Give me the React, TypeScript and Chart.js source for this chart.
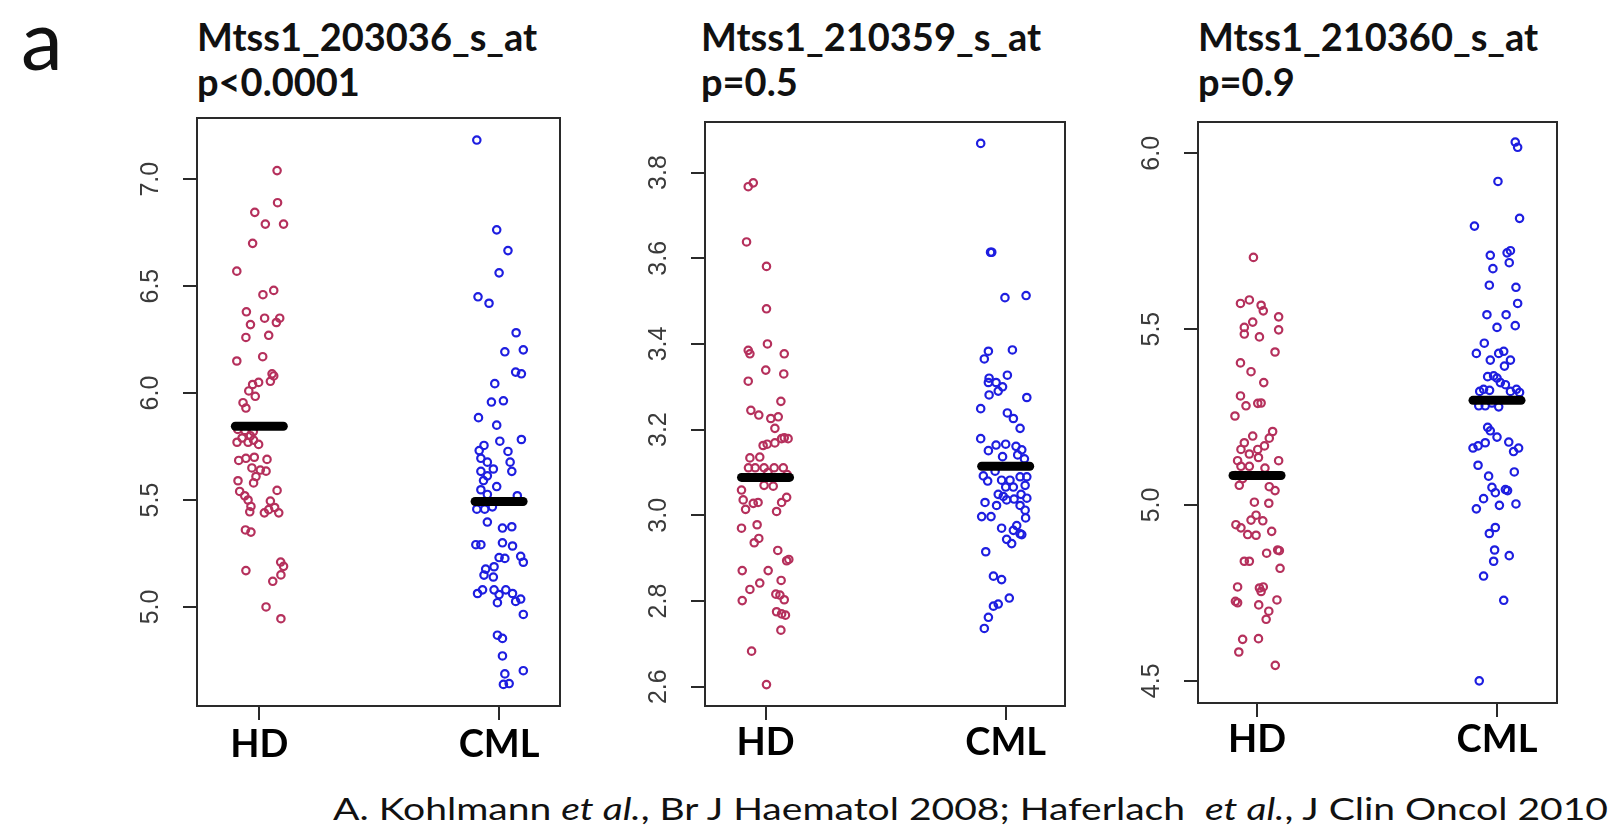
import React, { useEffect, useRef } from 'react';
import { Chart, registerables } from 'chart.js';

Chart.register(...registerables);

// ---------------- data ----------------
const groupLabels = ['HD', 'CML'];
const panelTitles = ['Mtss1_203036_s_at', 'Mtss1_210359_s_at', 'Mtss1_210360_s_at'];
const pValueLabels = ['p<0.0001', 'p=0.5', 'p=0.9'];

const yTicks1 = [5.0, 5.5, 6.0, 6.5, 7.0];
const yTicks2 = [2.6, 2.8, 3.0, 3.2, 3.4, 3.6, 3.8];
const yTicks3 = [4.5, 5.0, 5.5, 6.0];

const p1Means = [5.845, 5.493];
const p2Means = [3.0885, 3.1146];
const p3Means = [5.084, 5.2975];

// Panel 1 (Mtss1_203036_s_at)
const p1HdValues = [7.04, 6.89, 6.845, 6.79, 6.79, 6.7, 6.57, 6.48, 6.46, 6.38, 6.32, 6.35, 6.35, 6.33, 6.26, 6.27, 6.15, 6.17, 6.09, 6.055, 6.08, 6.05, 6.04, 6.01, 5.985, 5.955, 5.93, 5.83, 5.825, 5.82, 5.8, 5.79, 5.78, 5.77, 5.77, 5.76, 5.685, 5.695, 5.7, 5.69, 5.65, 5.64, 5.635, 5.61, 5.58, 5.59, 5.54, 5.52, 5.5, 5.47, 5.445, 5.44, 5.495, 5.465, 5.44, 5.545, 5.455, 5.36, 5.35, 5.17, 5.21, 5.19, 5.15, 5.12, 5.0, 4.945];
const p1HdJitter = [0.074, 0.076, -0.019, 0.025, 0.101, -0.028, -0.094, 0.06, 0.015, -0.054, -0.037, 0.022, 0.085, 0.071, -0.056, 0.039, -0.094, 0.014, 0.053, 0.046, 0.06, -0.003, -0.028, -0.044, -0.017, -0.068, -0.056, -0.09, -0.06, -0.025, -0.037, -0.072, -0.024, -0.093, -0.047, -0.003, -0.086, -0.056, -0.021, 0.032, -0.031, 0.004, 0.028, -0.014, -0.024, -0.089, -0.082, -0.061, -0.047, -0.035, -0.04, 0.021, 0.046, 0.064, 0.081, 0.074, 0.039, -0.058, -0.035, -0.056, 0.089, 0.101, 0.09, 0.056, 0.028, 0.09];
const p1CmlValues = [7.183, 6.763, 6.666, 6.562, 6.45, 6.42, 6.282, 6.193, 6.202, 6.098, 6.09, 6.044, 5.958, 5.964, 5.885, 5.85, 5.783, 5.775, 5.755, 5.731, 5.727, 5.695, 5.677, 5.677, 5.645, 5.634, 5.634, 5.613, 5.591, 5.563, 5.548, 5.526, 5.52, 5.457, 5.457, 5.468, 5.397, 5.369, 5.375, 5.291, 5.291, 5.3, 5.285, 5.237, 5.209, 5.231, 5.227, 5.188, 5.177, 5.149, 5.14, 5.063, 5.08, 5.08, 5.058, 5.08, 5.063, 5.02, 5.026, 5.037, 4.965, 4.868, 4.853, 4.771, 4.702, 4.687, 4.638, 4.642];
const p1CmlJitter = [-0.093, -0.01, 0.037, 0.0, -0.088, -0.042, 0.071, 0.024, 0.101, 0.069, 0.093, -0.018, -0.032, 0.018, -0.086, -0.01, 0.093, 0.003, -0.063, -0.083, 0.037, -0.076, -0.049, 0.046, -0.024, 0.053, -0.076, -0.049, -0.065, -0.01, -0.076, -0.049, 0.076, -0.093, -0.06, -0.028, -0.049, 0.014, 0.053, -0.097, -0.076, 0.014, 0.056, 0.09, 0.101, 0.0, 0.024, -0.021, -0.056, -0.063, -0.024, -0.09, -0.069, -0.021, 0.0, 0.028, 0.056, -0.007, 0.069, 0.09, 0.101, -0.007, 0.014, 0.014, 0.101, 0.024, 0.018, 0.042];

// Panel 2 (Mtss1_210359_s_at)
const p2HdValues = [3.767, 3.776, 3.638, 3.581, 3.482, 3.385, 3.377, 3.4, 3.377, 3.339, 3.33, 3.313, 3.266, 3.245, 3.234, 3.226, 3.23, 3.203, 3.181, 3.179, 3.179, 3.163, 3.166, 3.169, 3.134, 3.136, 3.111, 3.111, 3.111, 3.111, 3.111, 3.1, 3.095, 3.059, 3.036, 3.028, 3.03, 3.07, 3.068, 3.03, 3.042, 3.009, 3.014, 2.97, 2.978, 2.936, 2.946, 2.918, 2.894, 2.897, 2.871, 2.871, 2.842, 2.827, 2.848, 2.801, 2.816, 2.814, 2.803, 2.775, 2.77, 2.767, 2.732, 2.683, 2.605];
const p2HdJitter = [-0.072, -0.051, -0.079, 0.004, 0.004, -0.072, -0.065, 0.008, 0.078, 0.001, 0.076, -0.072, 0.064, -0.061, -0.028, 0.022, 0.053, 0.039, 0.078, 0.094, 0.067, -0.01, 0.007, 0.039, -0.065, -0.024, -0.071, -0.043, -0.006, 0.036, 0.074, 0.01, 0.09, -0.1, -0.093, -0.051, -0.031, -0.006, 0.032, 0.067, 0.088, 0.046, -0.083, -0.1, -0.035, -0.047, -0.028, 0.051, 0.088, 0.097, -0.097, 0.011, -0.024, -0.065, 0.065, -0.097, 0.043, 0.06, 0.078, 0.046, 0.067, 0.083, 0.064, -0.058, 0.004];
const p2CmlValues = [3.868, 3.614, 3.614, 3.508, 3.513, 3.383, 3.386, 3.365, 3.32, 3.31, 3.31, 3.327, 3.3, 3.29, 3.281, 3.275, 3.249, 3.239, 3.226, 3.203, 3.179, 3.164, 3.166, 3.161, 3.153, 3.151, 3.137, 3.141, 3.132, 3.092, 3.08, 3.082, 3.082, 3.09, 3.09, 3.103, 3.07, 3.066, 3.066, 3.049, 3.044, 3.049, 3.04, 3.03, 3.023, 3.036, 3.038, 3.023, 3.012, 2.997, 2.997, 2.994, 2.976, 2.957, 2.965, 2.955, 2.97, 2.944, 2.934, 2.915, 2.858, 2.85, 2.788, 2.793, 2.807, 2.762, 2.736];
const p2CmlJitter = [-0.104, -0.063, -0.058, -0.003, 0.085, -0.072, 0.028, -0.089, -0.069, -0.04, -0.072, 0.007, -0.013, -0.031, -0.069, 0.088, -0.104, 0.007, 0.032, 0.06, -0.104, -0.04, 0.0, 0.043, 0.067, -0.072, -0.013, 0.05, 0.078, -0.093, -0.075, -0.017, 0.018, 0.06, 0.088, -0.044, 0.081, 0.032, 0.0, -0.031, -0.01, 0.064, 0.088, -0.086, -0.038, 0.004, 0.035, 0.06, 0.081, -0.1, -0.061, 0.083, 0.046, 0.06, 0.032, 0.067, -0.017, 0.004, 0.025, -0.083, -0.051, -0.017, -0.051, -0.031, 0.015, -0.072, -0.089];

// Panel 3 (Mtss1_210360_s_at)
const p3HdValues = [5.704, 5.573, 5.583, 5.568, 5.552, 5.535, 5.505, 5.52, 5.498, 5.486, 5.478, 5.435, 5.404, 5.379, 5.348, 5.31, 5.282, 5.289, 5.29, 5.253, 5.209, 5.19, 5.196, 5.177, 5.158, 5.168, 5.158, 5.145, 5.135, 5.126, 5.11, 5.11, 5.126, 5.105, 5.084, 5.075, 5.056, 5.052, 5.041, 5.008, 5.005, 4.971, 4.955, 4.957, 4.944, 4.935, 4.916, 4.914, 4.925, 4.84, 4.84, 4.863, 4.872, 4.87, 4.82, 4.767, 4.764, 4.767, 4.754, 4.726, 4.722, 4.716, 4.73, 4.698, 4.675, 4.618, 4.62, 4.582, 4.544];
const p3HdJitter = [-0.015, -0.069, -0.032, 0.017, 0.026, 0.09, -0.053, -0.018, 0.09, -0.053, 0.01, 0.075, -0.069, -0.025, 0.028, -0.069, -0.046, 0.003, 0.017, -0.092, 0.065, 0.051, -0.018, -0.053, -0.067, 0.031, 0.003, -0.032, 0.006, -0.081, -0.067, -0.032, 0.09, 0.033, -0.09, -0.06, -0.074, 0.051, 0.075, -0.011, 0.049, -0.004, 0.024, -0.025, -0.088, -0.067, -0.039, -0.004, 0.061, -0.053, -0.032, 0.04, 0.086, 0.093, 0.096, -0.081, 0.01, 0.026, 0.017, -0.09, -0.081, 0.007, 0.083, 0.049, 0.038, -0.06, 0.006, -0.076, 0.076];
const p3CmlValues = [6.032, 6.017, 5.92, 5.815, 5.793, 5.723, 5.717, 5.71, 5.689, 5.672, 5.625, 5.619, 5.573, 5.541, 5.541, 5.505, 5.51, 5.46, 5.431, 5.431, 5.437, 5.412, 5.412, 5.395, 5.365, 5.367, 5.361, 5.348, 5.342, 5.323, 5.329, 5.326, 5.323, 5.329, 5.32, 5.282, 5.282, 5.279, 5.29, 5.221, 5.211, 5.193, 5.177, 5.168, 5.162, 5.179, 5.152, 5.162, 5.113, 5.094, 5.082, 5.05, 5.035, 5.044, 5.041, 5.018, 4.999, 5.003, 4.989, 4.919, 4.936, 4.872, 4.84, 4.856, 4.798, 4.729, 4.5];
const p3CmlJitter = [0.076, 0.086, 0.004, 0.094, -0.094, 0.056, 0.042, -0.028, 0.051, -0.017, -0.032, 0.079, 0.086, -0.042, 0.038, 0.0, 0.076, -0.053, -0.086, 0.007, 0.028, -0.028, 0.056, 0.031, -0.039, -0.014, 0.0, 0.014, 0.035, -0.072, -0.056, -0.031, 0.056, 0.081, 0.094, -0.076, -0.049, 0.007, -0.021, -0.039, -0.028, 0.0, -0.049, -0.079, -0.1, 0.049, 0.069, 0.09, -0.079, 0.072, -0.035, -0.021, -0.007, 0.035, 0.044, -0.056, 0.01, 0.079, -0.086, -0.032, -0.007, -0.01, -0.014, 0.051, -0.056, 0.028, -0.074];

// ---------------- styling / layout ----------------
const HD_COLOR = '#b5305c';
const CML_COLOR = '#1e1ee0';
const AXIS_COLOR = '#2a2a2a';
const AX_W = 90;
const AX_H = 80;
const PAD_T = 10;
const PAD_R = 10;
const MEAN_HALF = 0.1;

type PanelCfg = {
  left: number; right: number; top: number; bottom: number;
  xMin: number; xMax: number; yMin: number; yMax: number;
  ticks: number[]; means: number[];
  hd: number[]; hdJ: number[]; cml: number[]; cmlJ: number[];
  xLabelPad: number; titleX: number;
};

const panels: PanelCfg[] = [
  { left: 197, right: 560, top: 118, bottom: 706, xMin: 0.74, xMax: 2.254, yMin: 4.537, yMax: 7.286,
    ticks: yTicks1, means: p1Means, hd: p1HdValues, hdJ: p1HdJitter, cml: p1CmlValues, cmlJ: p1CmlJitter, xLabelPad: 2, titleX: 197 },
  { left: 705, right: 1065, top: 122, bottom: 706, xMin: 0.748, xMax: 2.247, yMin: 2.555, yMax: 3.918,
    ticks: yTicks2, means: p2Means, hd: p2HdValues, hdJ: p2HdJitter, cml: p2CmlValues, cmlJ: p2CmlJitter, xLabelPad: 0, titleX: 701 },
  { left: 1198, right: 1557, top: 122, bottom: 703, xMin: 0.754, xMax: 2.25, yMin: 4.437, yMax: 6.089,
    ticks: yTicks3, means: p3Means, hd: p3HdValues, hdJ: p3HdJitter, cml: p3CmlValues, cmlJ: p3CmlJitter, xLabelPad: 0, titleX: 1198 },
];

const framePlugin = {
  id: 'frame',
  afterDraw(chart: any) {
    const { ctx, chartArea } = chart;
    ctx.save();
    ctx.strokeStyle = AXIS_COLOR;
    ctx.lineWidth = 2;
    ctx.strokeRect(chartArea.left, chartArea.top, chartArea.right - chartArea.left, chartArea.bottom - chartArea.top);
    ctx.restore();
  },
};

function StripPanel({ cfg }: { cfg: PanelCfg }) {
  const ref = useRef<HTMLCanvasElement>(null);
  const w = cfg.right - cfg.left + AX_W + PAD_R;
  const h = cfg.bottom - cfg.top + PAD_T + AX_H;

  useEffect(() => {
    const pointStyle = (color: string) => ({
      pointStyle: 'circle',
      pointRadius: 3.7,
      pointBorderWidth: 2.2,
      pointBorderColor: color,
      pointBackgroundColor: 'rgba(255,255,255,0)',
      borderColor: color,
      backgroundColor: 'rgba(255,255,255,0)',
      showLine: false,
    });
    const meanLine = (pos: number, m: number) => ({
      type: 'line' as const,
      data: [{ x: pos - MEAN_HALF, y: m }, { x: pos + MEAN_HALF, y: m }],
      borderColor: '#000',
      borderWidth: 9,
      borderCapStyle: 'round',
      pointRadius: 0,
      showLine: true,
      order: 0,
    });
    const chart = new Chart(ref.current as HTMLCanvasElement, {
      type: 'scatter',
      data: {
        datasets: [
          { label: groupLabels[0] + ' mean', ...meanLine(1, cfg.means[0]) } as any,
          { label: groupLabels[1] + ' mean', ...meanLine(2, cfg.means[1]) } as any,
          { label: groupLabels[0], data: cfg.hd.map((v, i) => ({ x: 1 + cfg.hdJ[i], y: v })), order: 1, ...pointStyle(HD_COLOR) } as any,
          { label: groupLabels[1], data: cfg.cml.map((v, i) => ({ x: 2 + cfg.cmlJ[i], y: v })), order: 1, ...pointStyle(CML_COLOR) } as any,
        ],
      },
      options: {
        animation: false,
        responsive: false,
        devicePixelRatio: 1,
        layout: { padding: { top: PAD_T, right: PAD_R, left: 0, bottom: 0 } },
        plugins: { legend: { display: false }, tooltip: { enabled: false }, title: { display: false } },
        scales: {
          x: {
            type: 'linear',
            min: cfg.xMin,
            max: cfg.xMax,
            afterBuildTicks: (s: any) => { s.ticks = [1, 2].map((v) => ({ value: v })); },
            afterFit: (s: any) => { s.height = AX_H; s.paddingLeft = 0; s.paddingRight = 0; },
            grid: { drawOnChartArea: false, drawTicks: true, tickLength: 14, color: AXIS_COLOR, lineWidth: 2 },
            border: { display: false },
            ticks: {
              autoSkip: false, minRotation: 0, maxRotation: 0, padding: cfg.xLabelPad,
              font: { family: 'Lato', weight: 'bold', size: 38 }, color: '#000',
              callback: (_v: any, i: number) => groupLabels[i],
            },
          },
          y: {
            type: 'linear',
            min: cfg.yMin,
            max: cfg.yMax,
            afterBuildTicks: (s: any) => { s.ticks = cfg.ticks.map((v) => ({ value: v })); },
            afterFit: (s: any) => { s.width = AX_W; s.paddingTop = 0; s.paddingBottom = 0; },
            grid: { drawOnChartArea: false, drawTicks: true, tickLength: 14, color: AXIS_COLOR, lineWidth: 2 },
            border: { display: false },
            ticks: {
              minRotation: 90, maxRotation: 90, crossAlign: 'center', padding: 15,
              font: { family: 'Liberation Sans', size: 25 }, color: '#3a3a3a',
              callback: (v: any) => Number(v).toFixed(1),
            },
          },
        },
      } as any,
      plugins: [framePlugin],
    });
    return () => chart.destroy();
  }, []);

  return (
    <canvas
      ref={ref}
      width={w}
      height={h}
      style={{ position: 'absolute', left: cfg.left - AX_W, top: cfg.top - PAD_T, width: w, height: h }}
    />
  );
}

export default function App() {
  useEffect(() => {
    document.body.style.margin = '0';
    document.body.style.overflow = 'hidden';
  }, []);
  return (
    <div style={{ position: 'relative', width: 1611, height: 831, background: '#fff', overflow: 'hidden' }}>
      <svg width={1611} height={831} style={{ position: 'absolute', left: 0, top: 0 }}>
        <text x={21} y={70} fontFamily="Lato" fontSize={84} fill="#111">a</text>
        {panels.map((p, i) => (
          <g key={i}>
            <text x={p.titleX} y={51} fontFamily="Lato" fontWeight="bold" fontSize={38} fill="#111">{panelTitles[i]}</text>
            <text x={p.titleX} y={96} fontFamily="Lato" fontWeight="bold" fontSize={38} fill="#111">{pValueLabels[i]}</text>
          </g>
        ))}
        <text x={333} y={820} fontFamily="Lato" fontSize={31} fill="#111" textLength={1275} lengthAdjust="spacingAndGlyphs" style={{ whiteSpace: 'pre' }}>
          {'A. Kohlmann '}<tspan fontStyle="italic">et al.</tspan>{', Br J Haematol 2008; Haferlach  '}<tspan fontStyle="italic">et al.</tspan>{', J Clin Oncol 2010'}
        </text>
      </svg>
      {panels.map((p, i) => <StripPanel key={i} cfg={p} />)}
    </div>
  );
}
